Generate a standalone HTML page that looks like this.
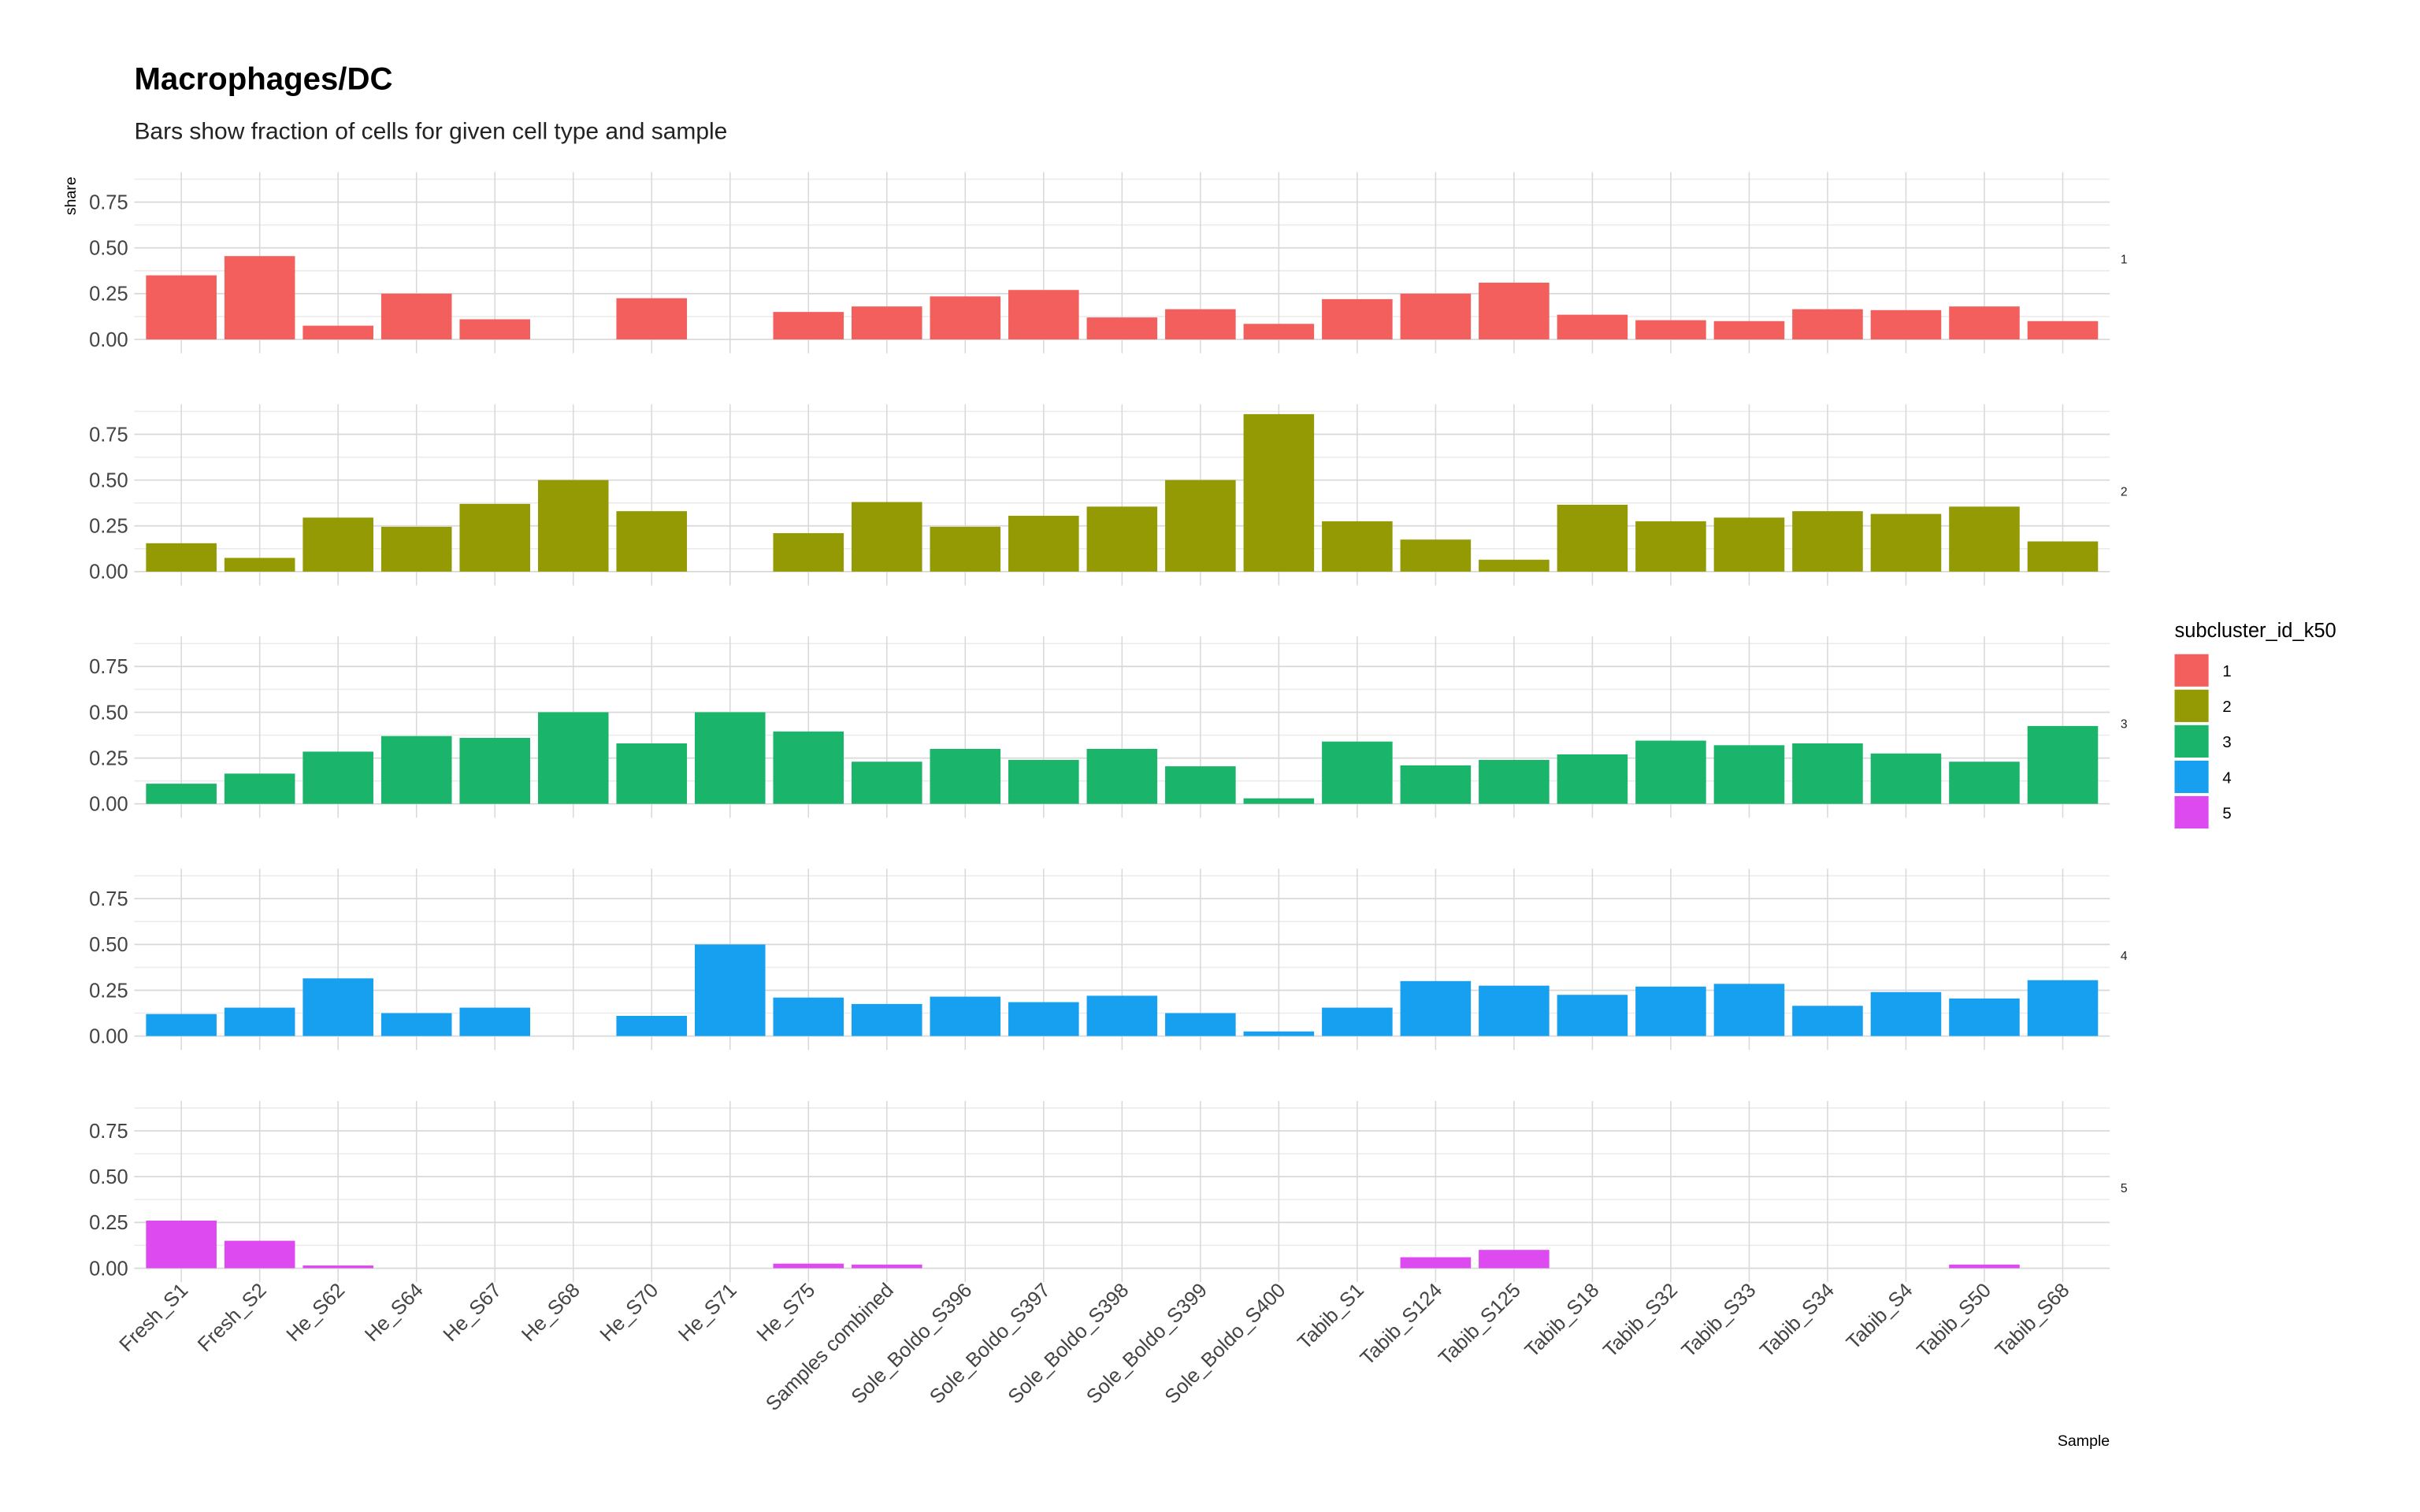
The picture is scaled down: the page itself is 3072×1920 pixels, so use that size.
<!DOCTYPE html>
<html><head><meta charset="utf-8"><style>
html,body{margin:0;padding:0;background:#fff}
svg{display:block}
text{font-family:"Liberation Sans Narrow","Liberation Sans",sans-serif}
</style></head><body>
<svg id="chart" width="3072" height="1920" viewBox="0 0 1568 980" xmlns="http://www.w3.org/2000/svg">
<text x="87" y="58" font-size="20.5" font-weight="bold" fill="#000">Macrophages/DC</text>
<text x="87" y="90" font-size="15.3" fill="#222">Bars show fraction of cells for given cell type and sample</text>
<text transform="translate(49,127) rotate(-90)" text-anchor="middle" font-size="10" font-family="Liberation Sans, sans-serif" fill="#000">share</text>
<text x="1367" y="937" text-anchor="end" font-size="10" font-family="Liberation Sans, sans-serif" fill="#000">Sample</text>
<g id="panels"></g>
<g id="legend"></g>
</svg>
<script>
const categories = ["Fresh_S1","Fresh_S2","He_S62","He_S64","He_S67","He_S68","He_S70","He_S71","He_S75","Samples combined","Sole_Boldo_S396","Sole_Boldo_S397","Sole_Boldo_S398","Sole_Boldo_S399","Sole_Boldo_S400","Tabib_S1","Tabib_S124","Tabib_S125","Tabib_S18","Tabib_S32","Tabib_S33","Tabib_S34","Tabib_S4","Tabib_S50","Tabib_S68"];
const clusters = ["1","2","3","4","5"];
const colors = ["#f25f5c","#939a04","#1ab46b","#16a0ef","#dd4aef"];
const yTicks = [0,0.25,0.5,0.75];
const yTickLabels = ["0.00","0.25","0.50","0.75"];
const share1 = [0.35,0.455,0.075,0.25,0.11,0,0.225,0,0.15,0.18,0.235,0.27,0.12,0.165,0.085,0.22,0.25,0.31,0.135,0.105,0.1,0.165,0.16,0.18,0.1];
const share2 = [0.155,0.075,0.295,0.245,0.37,0.5,0.33,0,0.21,0.38,0.245,0.305,0.355,0.5,0.86,0.275,0.175,0.065,0.365,0.275,0.295,0.33,0.315,0.355,0.165];
const share3 = [0.11,0.165,0.285,0.37,0.36,0.5,0.33,0.5,0.395,0.23,0.3,0.24,0.3,0.205,0.03,0.34,0.21,0.24,0.27,0.345,0.32,0.33,0.275,0.23,0.425];
const share4 = [0.12,0.155,0.315,0.125,0.155,0,0.11,0.5,0.21,0.175,0.215,0.185,0.22,0.125,0.025,0.155,0.3,0.275,0.225,0.27,0.285,0.165,0.24,0.205,0.305];
const share5 = [0.26,0.15,0.015,0,0,0,0,0,0.025,0.02,0,0,0,0,0,0,0.06,0.1,0,0,0,0,0,0.02,0];
const series = [share1,share2,share3,share4,share5];

const NS="http://www.w3.org/2000/svg";
function mk(tag,attrs,parent){const e=document.createElementNS(NS,tag);for(const k in attrs)e.setAttribute(k,attrs[k]);parent.appendChild(e);return e;}
const px0=87, px1=1367, yMax=0.88, unit=118.7;
const step=(px1-px0)/(categories.length-1+1.2);
function xScale(i){return px0+step*(0.6+i);}
const zeroYs=[220,370.5,521,671.5,822];
const panels=document.getElementById('panels');
series.forEach((vals,p)=>{
  const z=zeroYs[p];
  const yS=v=>z-v*unit;
  const g=mk('g',{},panels);
  
  
  for(let m=0.125;m<yMax;m+=0.25){const l=mk('line',{x1:px0,x2:px1,y1:yS(m),y2:yS(m),stroke:'#ebebeb','stroke-width':0.8},g);}
  yTicks.forEach((t,k)=>{
    const l=mk('line',{x1:px0,x2:px1,y1:yS(t),y2:yS(t),stroke:'#d9d9d9','stroke-width':0.9},g);
    
    
    const tx=mk('text',{x:83,y:yS(t)+4.5,'text-anchor':'end','font-size':13,fill:'#444'},g);
    tx.textContent=yTickLabels[k];
    
    
  });
  categories.forEach((c,i)=>{
    const l=mk('line',{x1:xScale(i),x2:xScale(i),y1:z-yMax*unit-4,y2:z+9,stroke:'#d9d9d9','stroke-width':0.8},g);
    
    
  });
  vals.forEach((v,i)=>{
    if(v<=0)return;
    const bw=step*0.9;
    const r=mk('rect',{x:xScale(i)-bw/2,y:yS(v),width:bw,height:v*unit,fill:colors[p]},g);
    
    
  });
  const st=mk('text',{x:1374,y:z-yMax*unit/2+3,'font-size':8,fill:'#222','font-family':'Liberation Sans, sans-serif'},g);
  st.textContent=clusters[p];
  
  
});
const xl=mk('g',{},panels);


categories.forEach((c,i)=>{
  const t=mk('text',{transform:'translate('+(xScale(i)+5)+',837) rotate(-45)','text-anchor':'end','font-size':13,fill:'#444'},xl);
  t.textContent=c;
  
  
});
const lg=document.getElementById('legend');
const lt=mk('text',{x:1409,y:413,'font-size':13,fill:'#000','font-family':'Liberation Sans, sans-serif'},lg);
lt.textContent='subcluster_id_k50';


clusters.forEach((c,k)=>{
  const y=424+k*23;
  const r=mk('rect',{x:1409,y:y,width:22,height:21,fill:colors[k]},lg);
  
  
  const t=mk('text',{x:1440,y:y+14.5,'font-size':10.5,fill:'#000','font-family':'Liberation Sans, sans-serif'},lg);
  t.textContent=c;
  
  
});
</script>
</body></html>
